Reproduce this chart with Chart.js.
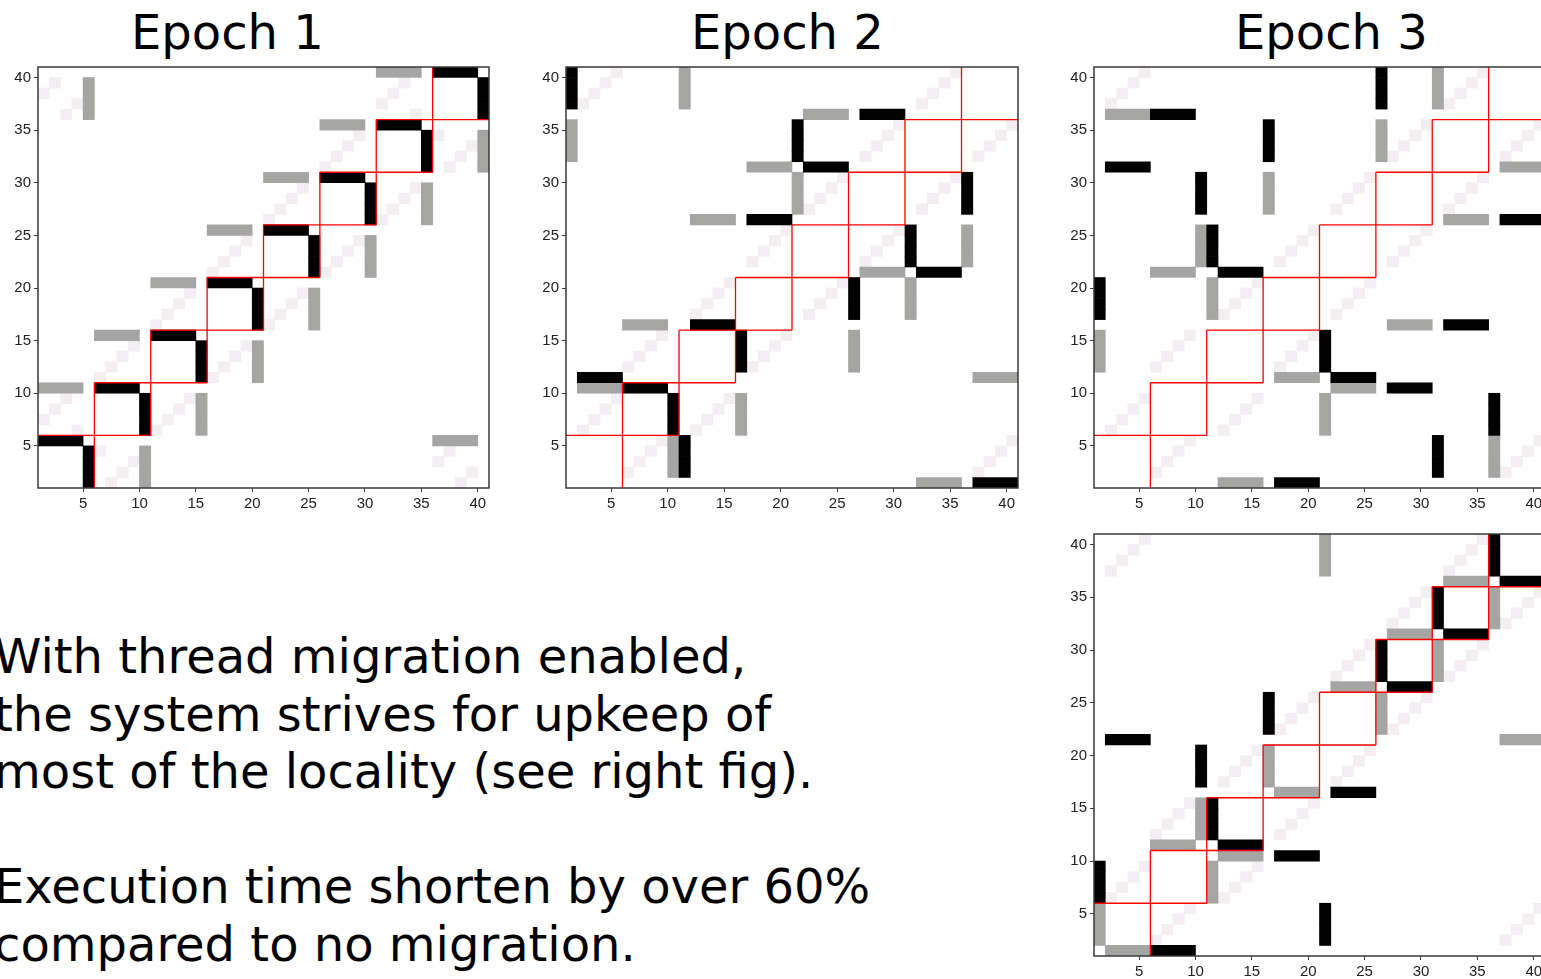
<!DOCTYPE html>
<html>
<head>
<meta charset="utf-8">
<script src="https://cdn.jsdelivr.net/npm/chart.js@4.4.1/dist/chart.umd.min.js"></script>
<style>
  html, body { margin: 0; padding: 0; width: 1541px; height: 979px; overflow: hidden; background: #fff; }
  canvas { position: absolute; }
  .title { position: absolute; font-family: 'DejaVu Sans', sans-serif; font-size: 48px; line-height: 48px; color: #000; white-space: nowrap; }
  .note { position: absolute; left: -6px; font-family: 'DejaVu Sans', sans-serif; font-size: 48px; line-height: 57.5px; color: #000; white-space: nowrap; }
</style>
</head>
<body>
<div class="title" style="left:131px; top:8px;">Epoch 1</div>
<div class="title" style="left:691px; top:8px;">Epoch 2</div>
<div class="title" style="left:1235px; top:8px;">Epoch 3</div>

<canvas id="epoch1" width="501" height="457" style="left:0px; top:55px;"></canvas>
<canvas id="epoch2" width="502" height="457" style="left:528px; top:55px;"></canvas>
<canvas id="epoch3" width="501" height="457" style="left:1056px; top:55px;"></canvas>
<canvas id="epoch4" width="501" height="458" style="left:1056px; top:522px;"></canvas>

<div class="note" style="top:628px;">With thread migration enabled,<br>the system strives for upkeep of<br>most of the locality (see right fig).</div>
<div class="note" style="top:858px;">Execution time shorten by over 60%<br>compared to no migration.</div>

<script>
// thread ids 1..40 on both axes, cell k spans [k, k+1]
const axisMin = 1;
const axisMax = 41;
const tickValues = [5, 10, 15, 20, 25, 30, 35, 40];
const blockEdges = [6, 11, 16, 21, 26, 31, 36];
const blockSize = 5;

// runs of cells: [colFrom, colTo, rowFrom, rowTo] (inclusive)
const epoch1Black = [
    [1, 4, 5, 5], [5, 5, 1, 4], [6, 9, 10, 10], [10, 10, 6, 9],
    [11, 14, 15, 15], [15, 15, 11, 14], [16, 19, 20, 20], [20, 20, 16, 19],
    [21, 24, 25, 25], [25, 25, 21, 24], [26, 29, 30, 30], [30, 30, 26, 29],
    [31, 34, 35, 35], [35, 35, 31, 34], [36, 39, 40, 40], [40, 40, 36, 39]
];
const epoch1Gray = [
    [1, 4, 10, 10], [10, 10, 1, 4], [6, 9, 15, 15], [15, 15, 6, 9],
    [11, 14, 20, 20], [20, 20, 11, 14], [16, 19, 25, 25], [25, 25, 16, 19],
    [21, 24, 30, 30], [30, 30, 21, 24], [26, 29, 35, 35], [35, 35, 26, 29],
    [31, 34, 40, 40], [40, 40, 31, 34], [36, 39, 5, 5], [5, 5, 36, 39]
];
// single light cells: [col, row]
const epoch1Light = [
    [1, 7], [2, 8], [3, 9], [4, 6], [6, 4], [7, 1], [8, 2], [9, 3],
    [6, 11], [7, 12], [8, 13], [9, 14], [11, 6], [12, 7], [13, 8], [14, 9],
    [11, 16], [12, 17], [13, 18], [14, 19], [16, 11], [17, 12], [18, 13], [19, 14],
    [16, 21], [17, 22], [18, 23], [19, 24], [21, 16], [22, 17], [23, 18], [24, 19],
    [21, 26], [22, 27], [23, 28], [24, 29], [26, 21], [27, 22], [28, 23], [29, 24],
    [26, 31], [27, 32], [28, 33], [29, 34], [31, 26], [32, 27], [33, 28], [34, 29],
    [31, 37], [32, 38], [33, 39], [34, 36], [36, 34], [37, 31], [38, 32], [39, 33],
    [36, 3], [37, 4], [38, 1], [39, 2], [1, 38], [2, 39], [3, 36], [4, 37]
];

const epoch2Black = [
    [1, 1, 37, 40], [27, 30, 36, 36], [21, 21, 32, 35], [22, 25, 31, 31],
    [17, 20, 26, 26], [36, 36, 27, 30], [31, 31, 22, 25], [32, 35, 21, 21],
    [26, 26, 17, 20], [12, 15, 16, 16], [16, 16, 12, 15], [2, 5, 11, 11],
    [6, 9, 10, 10], [10, 10, 6, 9], [11, 11, 2, 5], [37, 40, 1, 1]
];
const epoch2Gray = [
    [11, 11, 37, 40], [1, 1, 32, 35], [22, 25, 36, 36], [17, 20, 31, 31],
    [21, 21, 27, 30], [12, 15, 26, 26], [36, 36, 22, 25], [27, 30, 21, 21],
    [31, 31, 17, 20], [6, 9, 16, 16], [26, 26, 12, 15], [2, 5, 10, 10],
    [16, 16, 6, 9], [10, 10, 2, 5], [37, 40, 11, 11], [32, 35, 1, 1]
];

const epoch3Black = [
    [26, 26, 37, 40], [6, 9, 36, 36], [16, 16, 32, 35], [2, 5, 31, 31],
    [10, 10, 27, 30], [37, 40, 26, 26], [11, 11, 22, 25], [12, 15, 21, 21],
    [1, 1, 17, 20], [32, 35, 16, 16], [21, 21, 12, 15], [22, 25, 11, 11],
    [27, 30, 10, 10], [36, 36, 6, 9], [31, 31, 2, 5], [17, 20, 1, 1]
];
const epoch3Gray = [
    [2, 5, 36, 36], [31, 31, 37, 40], [26, 26, 32, 35], [37, 40, 31, 31],
    [16, 16, 27, 30], [32, 35, 26, 26], [10, 10, 22, 25], [6, 9, 21, 21],
    [11, 11, 17, 20], [27, 30, 16, 16], [1, 1, 12, 15], [17, 20, 11, 11],
    [22, 25, 10, 10], [21, 21, 6, 9], [36, 36, 2, 5], [12, 15, 1, 1]
];

const epoch4Black = [
    [36, 36, 37, 40], [37, 40, 36, 36], [31, 31, 32, 35], [32, 35, 31, 31],
    [26, 26, 27, 30], [27, 30, 26, 26], [16, 16, 22, 25], [2, 5, 21, 21],
    [10, 10, 17, 20], [22, 25, 16, 16], [11, 11, 12, 15], [12, 15, 11, 11],
    [17, 20, 10, 10], [1, 1, 6, 9], [21, 21, 2, 5], [6, 9, 1, 1]
];
const epoch4Gray = [
    [21, 21, 37, 40], [32, 35, 36, 36], [36, 36, 32, 35], [27, 30, 31, 31],
    [31, 31, 27, 30], [22, 25, 26, 26], [26, 26, 22, 25], [37, 40, 21, 21],
    [16, 16, 17, 20], [17, 20, 16, 16], [10, 10, 12, 15], [6, 9, 11, 11],
    [12, 15, 10, 10], [11, 11, 6, 9], [1, 1, 2, 5], [2, 5, 1, 1]
];

// light cells are the same in epochs 2-4
const laterLight = [
    [2, 37], [3, 38], [4, 39], [5, 40], [32, 37], [33, 38], [34, 39], [35, 40],
    [27, 32], [28, 33], [29, 34], [30, 35], [37, 32], [38, 33], [39, 34], [40, 35],
    [22, 27], [23, 28], [24, 29], [25, 30], [32, 27], [33, 28], [34, 29], [35, 30],
    [17, 22], [18, 23], [19, 24], [20, 25], [27, 22], [28, 23], [29, 24], [30, 25],
    [12, 17], [13, 18], [14, 19], [15, 20], [22, 17], [23, 18], [24, 19], [25, 20],
    [6, 12], [7, 13], [8, 14], [9, 15], [17, 12], [18, 13], [19, 14], [20, 15],
    [2, 6], [3, 7], [4, 8], [5, 9], [12, 6], [13, 7], [14, 8], [15, 9],
    [6, 2], [7, 3], [8, 4], [9, 5], [37, 2], [38, 3], [39, 4], [40, 5]
];

const COLORS = {
    black: '#000000',
    gray: '#a5a6a4',
    light: '#f2eef2',
    block: '#ff0000',
    frame: '#3a3a3a',
    tick: '#222222'
};

// one horizontal floating bar per row of a run
function runsToBars(runs) {
    const bars = [];
    runs.forEach(([c1, c2, r1, r2]) => {
        for (let r = r1; r <= r2; r++) {
            bars.push({ y: r + 0.5, x: [c1, c2 + 1] });
        }
    });
    return bars;
}

function cellsToBars(cells) {
    return cells.map(([c, r]) => ({ y: r + 0.5, x: [c, c + 1] }));
}

// red partition lines between the thread blocks
function blockLines() {
    const pts = [];
    blockEdges.forEach(e => {
        pts.push({ x: e - blockSize, y: e }, { x: e + blockSize, y: e }, { x: null, y: null });
        pts.push({ x: e, y: e - blockSize }, { x: e, y: e + blockSize }, { x: null, y: null });
    });
    return pts;
}

const framePlugin = {
    id: 'frame',
    afterDatasetsDraw(chart) {
        const { ctx, chartArea: a } = chart;
        ctx.save();
        ctx.strokeStyle = COLORS.frame;
        ctx.lineWidth = 1.5;
        ctx.strokeRect(a.left, a.top, a.right - a.left, a.bottom - a.top);
        ctx.restore();
    }
};

function axisOptions(fit) {
    return {
        type: 'linear',
        min: axisMin,
        max: axisMax,
        offset: false,
        afterBuildTicks: (scale) => { scale.ticks = tickValues.map(v => ({ value: v })); },
        afterFit: fit,
        border: { display: false },
        grid: { offset: false, drawOnChartArea: false, drawTicks: true, tickLength: 4, color: COLORS.frame, lineWidth: 1 },
        ticks: {
            autoSkip: false,
            maxRotation: 0,
            padding: 3,
            color: COLORS.tick,
            font: { family: 'Liberation Sans', size: 15 }
        }
    };
}

function makePanel(id, black, gray, light) {
    const canvas = document.getElementById(id);
    return new Chart(canvas, {
        type: 'bar',
        data: {
            datasets: [
                {
                    type: 'line',
                    indexAxis: 'x',
                    data: blockLines(),
                    borderColor: COLORS.block,
                    borderWidth: 1.3,
                    pointRadius: 0,
                    fill: false,
                    spanGaps: false,
                    tension: 0
                },
                { data: runsToBars(black), backgroundColor: COLORS.black },
                { data: runsToBars(gray), backgroundColor: COLORS.gray },
                { data: cellsToBars(light), backgroundColor: COLORS.light }
            ]
        },
        options: {
            indexAxis: 'y',
            responsive: false,
            animation: false,
            events: [],
            layout: { padding: { left: 0, top: 10, right: 12, bottom: 0 } },
            datasets: {
                bar: { grouped: false, barPercentage: 1, categoryPercentage: 1, borderWidth: 0 }
            },
            plugins: {
                legend: { display: false },
                tooltip: { enabled: false }
            },
            scales: {
                x: axisOptions(s => { s.height = 24; }),
                y: axisOptions(s => { s.width = 38; })
            }
        },
        plugins: [framePlugin]
    });
}

makePanel('epoch1', epoch1Black, epoch1Gray, epoch1Light);
makePanel('epoch2', epoch2Black, epoch2Gray, laterLight);
makePanel('epoch3', epoch3Black, epoch3Gray, laterLight);
makePanel('epoch4', epoch4Black, epoch4Gray, laterLight);
</script>
</body>
</html>
